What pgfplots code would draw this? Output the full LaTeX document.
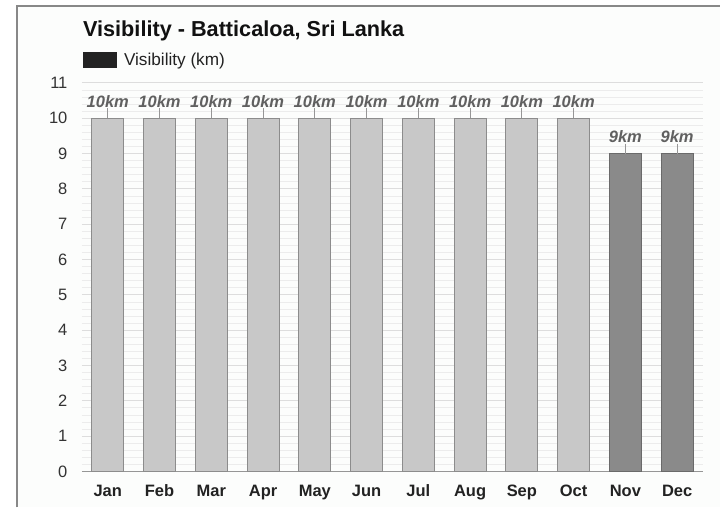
\documentclass[border=0pt]{standalone}
\usepackage{fontspec}
\setmainfont{Liberation Sans}
\usepackage{pgfplots}
\pgfplotsset{compat=1.18}
\definecolor{lightbar}{HTML}{C8C8C8}
\definecolor{lightedge}{HTML}{8C8C8C}
\definecolor{darkbar}{HTML}{8A8A8A}
\definecolor{darkedge}{HTML}{6A6A6A}
\definecolor{panel}{HTML}{FCFDFC}
\begin{document}
\begin{tikzpicture}[x=1pt,y=1pt]
\fill[white] (0,0) rectangle (721,508);
\fill[panel] (17,0) rectangle (721,502);
\draw[color={rgb,255:red,136;green,136;blue,136}, line width=2pt] (17.5,0) -- (17.5,501.5) -- (721,501.5);
\node[anchor=base west, inner sep=0pt, font=\fontsize{21.7}{26}\selectfont\bfseries, text={rgb,255:red,17;green,17;blue,17}] at (83,471) {Visibility - Batticaloa, Sri Lanka};
\fill[color={rgb,255:red,34;green,34;blue,34}] (83,440) rectangle (117,456);
\node[anchor=base west, inner sep=0pt, font=\fontsize{17.2}{20}\selectfont, text={rgb,255:red,34;green,34;blue,34}] at (124,442) {Visibility (km)};
\begin{axis}[
  at={(82pt,36pt)}, anchor=south west,
  scale only axis, width=622pt, height=389pt,
  xmin=-0.5, xmax=11.5, ymin=0, ymax=11,
  ybar, bar width=0.62, bar shift=0pt,
  xtick={0,...,11},
  xticklabels={Jan,Feb,Mar,Apr,May,Jun,Jul,Aug,Sep,Oct,Nov,Dec},
  ytick={0,...,11},
  minor y tick num=4,
  ymajorgrids, yminorgrids,
  major grid style={draw={rgb,255:red,221;green,221;blue,221}, line width=0.8pt},
  minor grid style={draw={rgb,255:red,236;green,236;blue,236}, line width=0.6pt},
  major tick length=0pt, minor tick length=0pt,
  axis line style={draw=none},
  /pgf/number format/assume math mode=true,
  yticklabel style={font=\fontsize{16.5}{19}\selectfont, text={rgb,255:red,51;green,51;blue,51}, xshift=-11pt},
  xticklabel style={font=\fontsize{16.5}{19}\selectfont\bfseries, text={rgb,255:red,34;green,34;blue,34}, anchor=base, yshift=-25pt},
  extra y ticks={0}, extra y tick labels={},
  extra y tick style={grid=major, major grid style={draw={rgb,255:red,150;green,150;blue,150}, line width=1.2pt}},
  nodes near coords={\pgfmathprintnumber{\pgfplotspointmeta}km},
  every node near coord/.append style={anchor=south, inner sep=0pt, yshift=10pt, font=\fontsize{16.5}{19}\selectfont\bfseries\itshape, text={rgb,255:red,96;green,96;blue,96}},
  error bars/y dir=plus, error bars/y fixed=0.28, error bars/error mark=none,
  error bars/error bar style={draw={rgb,255:red,150;green,150;blue,150}, line width=0.8pt},
  clip=false,
]
\addplot[fill=lightbar, draw=lightedge, line width=1pt] coordinates {(0,10) (1,10) (2,10) (3,10) (4,10) (5,10) (6,10) (7,10) (8,10) (9,10)};
\addplot[fill=darkbar, draw=darkedge, line width=1pt] coordinates {(10,9) (11,9)};
\end{axis}
\end{tikzpicture}
\end{document}
